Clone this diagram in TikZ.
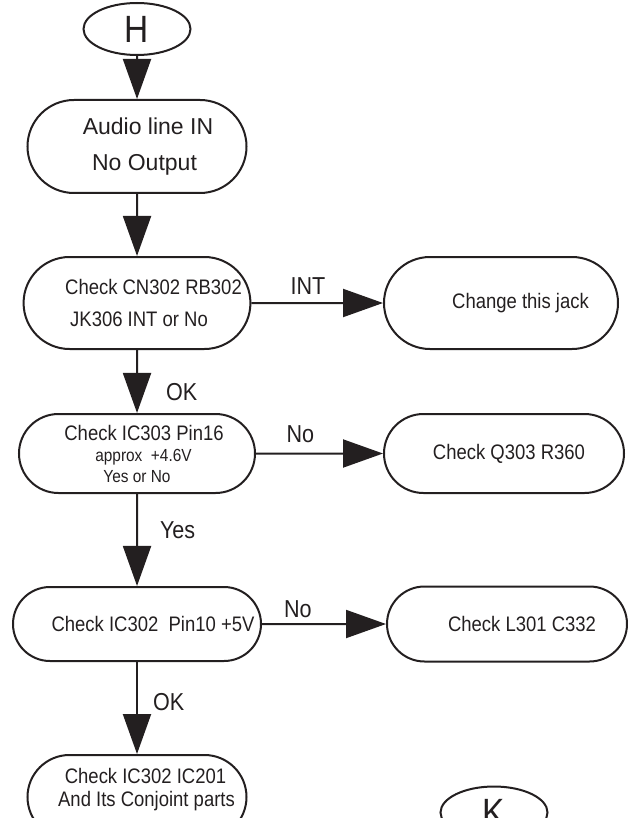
\documentclass[tikz,border=0pt]{standalone}
\usepackage{fontspec}
\setmainfont{Liberation Sans}
\newfontfamily\narrowfont[FakeStretch=0.88]{Liberation Sans}
\usetikzlibrary{shapes.geometric, shapes.misc, arrows.meta, positioning}
\definecolor{ink}{HTML}{231F20}
\tikzset{
    ->, % all connectors are directed
    >={Triangle[length=40pt, width=28pt]}, % big filled heads
    every picture/.style={line width=2pt}, % same weight for boxes and connectors
    node distance=150pt, % changed per node below
}

\begin{document}
\begin{tikzpicture}[
                                color=ink,
                                term/.style={ellipse, draw, minimum width=107pt, minimum height=52pt, inner sep=0pt, font=\fontsize{38}{38}\narrowfont},
                                box/.style={rounded rectangle, draw, align=center, inner sep=2pt, font=\fontsize{21}{32}\narrowfont},
                                lbl/.style={inner sep=2pt, font=\fontsize{24.5}{24.5}\narrowfont},
                            ]
                            \useasboundingbox (0pt,0pt) rectangle (627pt,-818pt);
                            \node[term] (hh) at (137pt,-29pt) {H};
                            \node[box, below of=hh, node distance=117.5pt, minimum width=223pt, minimum height=93pt, font=\fontsize{23}{36}\selectfont] (audio) {\hspace*{22pt}Audio line IN\\\hspace*{15pt}No Output};
                            \node[box, below of=audio, node distance=156.5pt, minimum width=225pt, minimum height=92pt] (cn) {\hspace*{33pt}Check CN302 RB302\\\hspace*{4pt}JK306 INT or No};
                            \node[box, right of=cn, node distance=364pt, minimum width=238pt, minimum height=92pt] (change) {\hspace*{39pt}Change this jack};
                            \node[box, below of=cn, node distance=150.5pt, minimum width=240pt, minimum height=79pt, font=\fontsize{21}{21}\narrowfont] (ic303) {\hspace*{14pt}Check IC303 Pin16\\{\fontsize{17.5}{21}\selectfont\hspace*{13pt}approx\ \ +4.6V}\\{\fontsize{17.5}{21}\selectfont Yes or No}};
                            \node[box, right of=ic303, node distance=367pt, minimum width=244pt, minimum height=79pt] (q303) {\hspace*{10pt}Check Q303 R360};
                            \node[box, below of=ic303, node distance=170.5pt, minimum width=252pt, minimum height=74pt] (ic302) {\hspace*{32pt}Check IC302\ \ Pin10 +5V};
                            \node[box, right of=ic302, node distance=370pt, minimum width=244pt, minimum height=75pt] (l301) {\hspace*{30pt}Check L301 C332};
                            \node[box, below of=ic302, node distance=173pt, minimum width=223pt, minimum height=84pt, font=\fontsize{21}{23}\narrowfont] (chk) {\hspace*{17pt}Check IC302 IC201\\\hspace*{19pt}And Its Conjoint parts\\[-4pt]\mbox{}};
                            \node[term, below of=l301, node distance=188.5pt, xshift=-13pt] (kk) {K};
                            \draw
                            (hh) edge (audio)
                            (audio) edge (cn)
                            (cn) edge node[lbl, above=6pt, pos=0.43] {INT} (change)
                            (cn) edge node[lbl, right=26pt, pos=0.66] {OK} (ic303)
                            (ic303) edge node[lbl, above=7.5pt, pos=0.35] {No} (q303)
                            (ic303) edge node[lbl, right=20pt, pos=0.39] {Yes} (ic302)
                            (ic302) edge node[lbl, above=3.5pt, pos=0.29] {No} (l301)
                            (ic302) edge node[lbl, right=13pt, pos=0.44] {OK} (chk);
                        \end{tikzpicture}
\end{document}
